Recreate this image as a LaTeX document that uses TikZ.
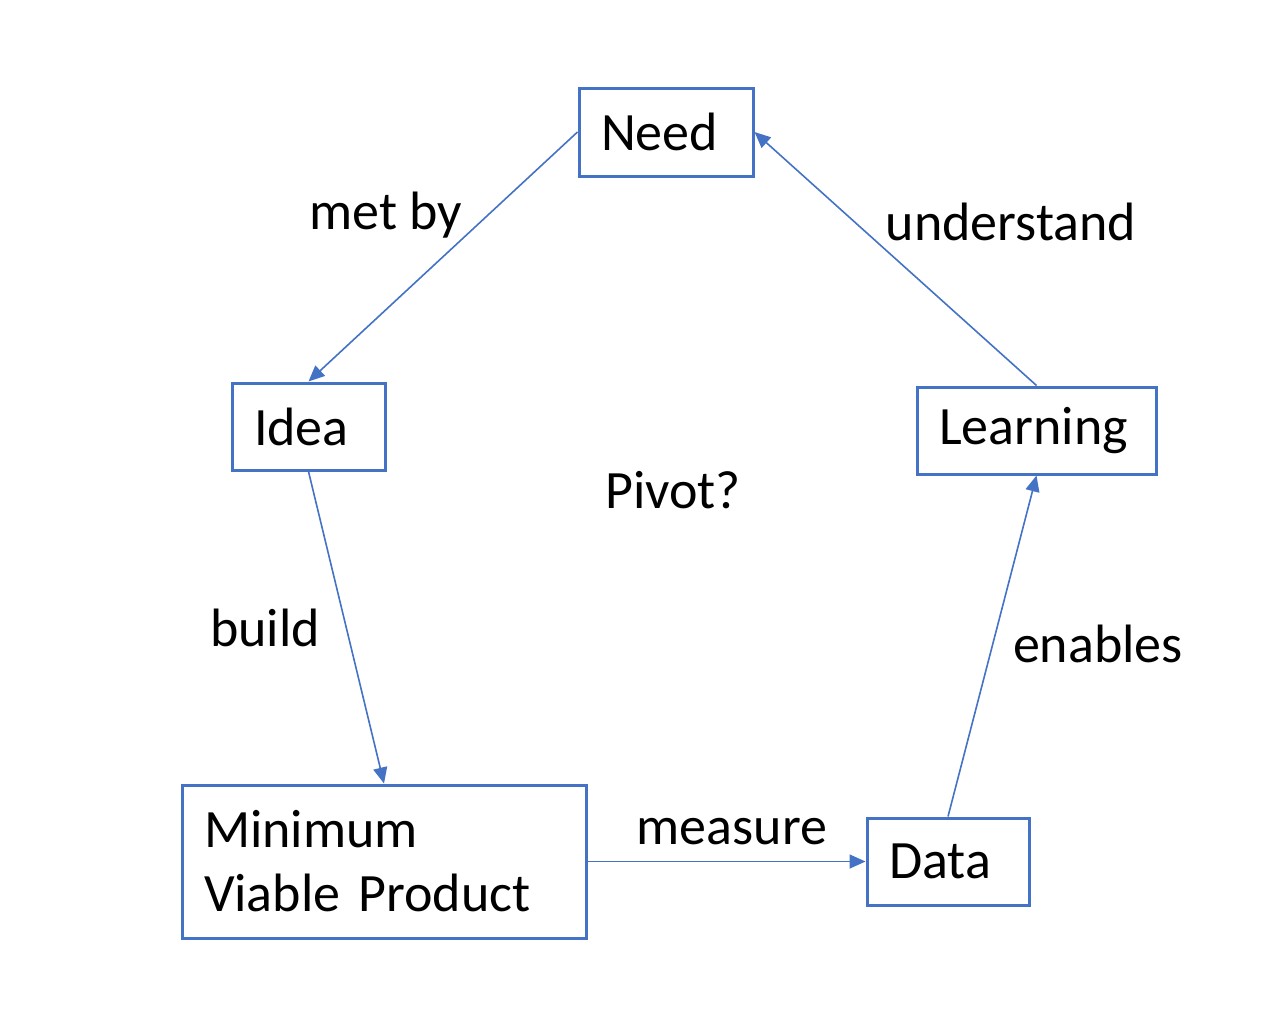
\documentclass[tikz,border=0pt]{standalone}
\usepackage{fontspec}
\setmainfont{Carlito}
\usetikzlibrary{arrows.meta,positioning}
\definecolor{officeblue}{HTML}{4472C4}
\tikzset{
	stage/.style={
		rectangle,
		draw=officeblue, line width=3pt,
		fill=white,
		inner xsep=22pt,
		inner ysep=0pt,
		align=left,
		font=\fontsize{54}{64}\selectfont,
	},
	flow/.style={
		draw=officeblue, line width=1.6pt,
		-{Triangle[length=16pt,width=14pt]},
	},
	tag/.style={
		font=\fontsize{54}{64}\selectfont,
		inner sep=0pt,
	},
}

\begin{document}
\begin{tikzpicture}[x=1pt,y=-1pt]
\useasboundingbox (0,0) rectangle (1284,1020);

\node	(need)		[stage, text width=130pt, minimum height=88pt]	at (666,132)	{Need};
\node	(idea)		[stage, text width=109pt, minimum height=87pt]	at (308.5,426.5)	{Idea};
\node	(learning)	[stage, text width=195pt, minimum height=87pt]	at (1036.5,430.5)	{Learning};
\node	(mvp)		[stage, text width=360pt, minimum height=153pt]	at (384,861.5)	{Minimum\\Viable Product};
\node	(data)		[stage, text width=118pt, minimum height=87pt]	at (948,861.5)	{Data};

\node	(metby)		[tag]	at (386,215)	{met by};
\node	(understand)	[tag]	at (1011,222)	{understand};
\node	(build)		[tag]	at (265,628)	{build};
\node	(enables)	[tag]	at (1098,644)	{enables};
\node	(measure)	[tag]	at (732,832)	{measure};
\node	(pivot)		[tag]	at (673,490)	{Pivot?};

\path (need.west) edge[flow] (idea.north);
\path (idea.south) edge[flow] (mvp.north);
\path (mvp.east) edge[flow] (data.west);
\path (data.north) edge[flow] (learning.south);
\path (learning.north) edge[flow] (need.east);

\end{tikzpicture}
\end{document}
